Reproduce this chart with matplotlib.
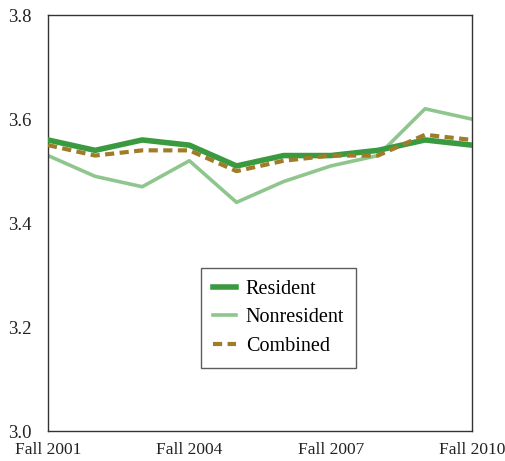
import matplotlib
matplotlib.use("Agg")
import matplotlib.pyplot as plt

years = ["Fall 2001", "Fall 2002", "Fall 2003", "Fall 2004", "Fall 2005",
         "Fall 2006", "Fall 2007", "Fall 2008", "Fall 2009", "Fall 2010"]
resident = [3.56, 3.54, 3.56, 3.55, 3.51, 3.53, 3.53, 3.54, 3.56, 3.55]
nonresident = [3.53, 3.49, 3.47, 3.52, 3.44, 3.48, 3.51, 3.53, 3.62, 3.60]
combined = [3.55, 3.53, 3.54, 3.54, 3.50, 3.52, 3.53, 3.53, 3.57, 3.56]
tick_labels = ["Fall 2001", "Fall 2004", "Fall 2007", "Fall 2010"]
y_ticks = [3.0, 3.2, 3.4, 3.6, 3.8]

plt.rcParams['font.family'] = ['Liberation Serif', 'DejaVu Serif']

fig = plt.figure(figsize=(5.05, 4.61), dpi=100)
ax = fig.add_axes([0.095, 0.065, 0.84, 0.902])

x = list(range(len(years)))
ax.plot(x, nonresident, color='#8fc68d', lw=2.6, label='Nonresident', zorder=2)
ax.plot(x, resident, color='#3a9a40', lw=4.0, label='Resident', zorder=3)
ax.plot(x, combined, color='#a07c28', lw=3.0, ls=(0, (2.2, 1.3)), label='Combined', zorder=4)

ax.set_xlim(0, len(years) - 1)
ax.set_ylim(3.0, 3.8)
ax.set_yticks(y_ticks)
ax.set_yticklabels([f"{v:.1f}" for v in y_ticks])
ax.set_xticks([years.index(t) for t in tick_labels])
ax.set_xticklabels(tick_labels)
ax.tick_params(axis='both', length=0, colors='#222222')
ax.tick_params(axis='x', pad=8, labelsize=12.5)
ax.tick_params(axis='y', pad=12, labelsize=13.5)
for s in ax.spines.values():
    s.set_color('#333333')
    s.set_linewidth(1.0)

h, l = ax.get_legend_handles_labels()
order = [1, 0, 2]
leg = ax.legend([h[i] for i in order], [l[i] for i in order],
                loc='center', bbox_to_anchor=(0.544, 0.272), fontsize=14.5,
                frameon=True, fancybox=False, handlelength=1.1, handletextpad=0.5,
                borderpad=0.6, labelspacing=0.45, borderaxespad=0)
leg.get_frame().set_edgecolor('#333333')
leg.get_frame().set_linewidth(1.0)

fig.savefig("out.png", dpi=100)
